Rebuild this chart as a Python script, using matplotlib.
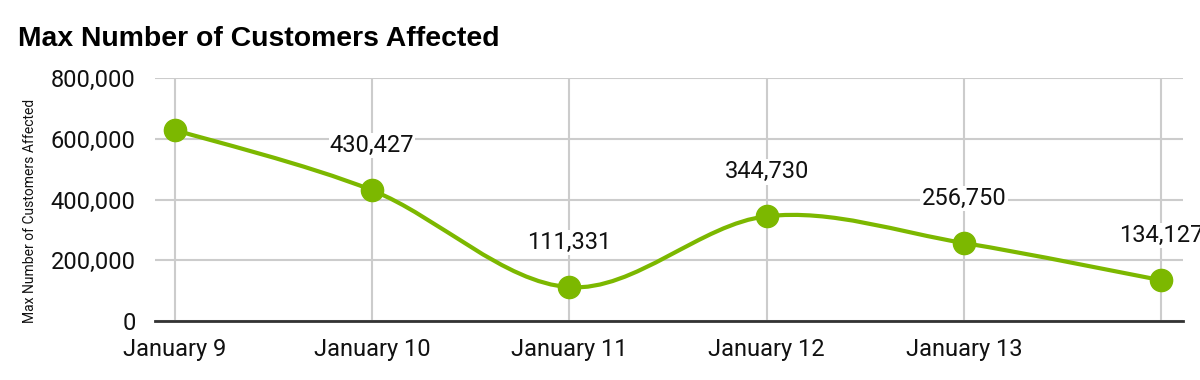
import matplotlib
matplotlib.use('Agg')
import matplotlib.pyplot as plt
from matplotlib.path import Path
from matplotlib.patches import PathPatch
import numpy as np

# ── Data ─────────────────────────────────────────────────────
days      = ['January 9', 'January 10', 'January 11', 'January 12', 'January 13', 'January 14']
tick_text = ['January 9', 'January 10', 'January 11', 'January 12', 'January 13', '']
customers = [629000, 430427, 111331, 344730, 256750, 134127]
labelled  = [False, True, True, True, True, True]

GREEN = '#7cb800'
GRID  = '#cccccc'
TEXT  = '#111111'

plt.rcParams['font.family'] = ['Roboto', 'DejaVu Sans']

fig = plt.figure(figsize=(12, 3.8), dpi=100)
ax = fig.add_axes([155 / 1200, 59 / 380, 1028 / 1200, 243 / 380])

x = np.arange(len(days))
y = np.array(customers, dtype=float)

# smooth curve: Catmull-Rom segments as cubic Bezier
verts = [(x[0], y[0])]
codes = [Path.MOVETO]
n = len(x)
for i in range(n - 1):
    p0 = np.array([x[max(i - 1, 0)], y[max(i - 1, 0)]])
    p1 = np.array([x[i], y[i]])
    p2 = np.array([x[i + 1], y[i + 1]])
    p3 = np.array([x[min(i + 2, n - 1)], y[min(i + 2, n - 1)]])
    c1 = p1 + (p2 - p0) / 6.0
    c2 = p2 - (p3 - p1) / 6.0
    verts += [tuple(c1), tuple(c2), tuple(p2)]
    codes += [Path.CURVE4, Path.CURVE4, Path.CURVE4]
ax.add_patch(PathPatch(Path(verts, codes), facecolor='none', edgecolor=GREEN,
                       lw=3, capstyle='round', zorder=3))
ax.plot(x, y, 'o', color=GREEN, markersize=16, zorder=4)

for xi, yi, show in zip(x, y, labelled):
    if show:
        ax.annotate(f'{int(yi):,}', (xi, yi), xytext=(0, 32), textcoords='offset points',
                    ha='center', va='center', fontsize=17, color=TEXT, zorder=5,
                    bbox=dict(boxstyle='square,pad=0.05', fc='white', ec='none'),
                    annotation_clip=False)

ax.set_xlim(-0.1, 5.11)
ax.set_ylim(0, 800000)
ax.set_yticks([0, 200000, 400000, 600000, 800000])
ax.set_yticklabels([f'{v:,}' for v in [0, 200000, 400000, 600000, 800000]])
ax.set_xticks(x)
ax.set_xticklabels(tick_text)
ax.tick_params(axis='both', length=0, labelsize=17, colors=TEXT)
ax.tick_params(axis='y', pad=14)
ax.tick_params(axis='x', pad=12)

ax.grid(True, color=GRID, lw=1.5)
ax.set_axisbelow(True)
for s in ['top', 'right', 'left']:
    ax.spines[s].set_visible(False)
ax.spines['bottom'].set_color('#333333')
ax.spines['bottom'].set_linewidth(2)
ax.spines['bottom'].set_zorder(2)

fig.text(30 / 1200, 1 - 211 / 380, 'Max Number of Customers Affected', rotation=90,
         ha='center', va='center', fontsize=10, color=TEXT)
fig.text(18 / 1200, 1 - 46 / 380, 'Max Number of Customers Affected', ha='left',
         va='baseline', fontsize=20.4, fontweight='bold', family='Liberation Sans',
         color='black')

fig.savefig('out.png', dpi=100)
